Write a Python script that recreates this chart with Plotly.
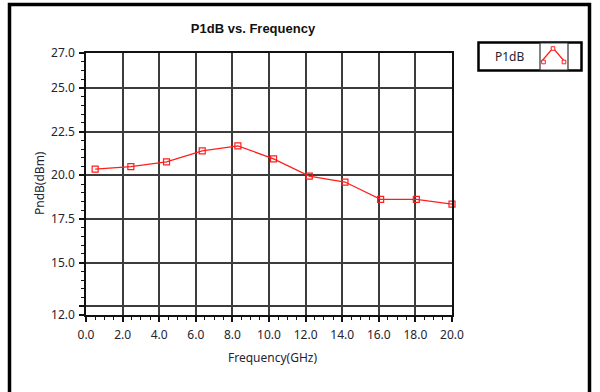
import plotly.graph_objects as go

# ---- data ----
freq_ghz = [0.5, 2.45, 4.4, 6.35, 8.3, 10.25, 12.2, 14.15, 16.1, 18.05, 20.0]
p1db_dbm = [20.35, 20.50, 20.77, 21.40, 21.68, 20.94, 19.95, 19.61, 18.62, 18.62, 18.35]
y_tickvals = [12.0, 12.5, 15.0, 17.5, 20.0, 22.5, 25.0, 27.0]
y_ticktext = ["12.0", "", "15.0", "17.5", "20.0", "22.5", "25.0", "27.0"]
x_tickvals = [0, 2, 4, 6, 8, 10, 12, 14, 16, 18, 20]
x_ticktext = ["0.0", "2.0", "4.0", "6.0", "8.0", "10.0", "12.0", "14.0", "16.0", "18.0", "20.0"]

W, H = 600, 392
L, R, T, B = 86, 452, 53, 315  # plot area in pixels


def px(p):
    return (p - L) / (R - L)


def py(p):
    return (B - p) / (B - T)


FONT = "Noto Sans"
TXT = "#1e2433"
RED = "#ff1e1e"
GRID = "#3c3c3c"

fig = go.Figure()
fig.add_trace(go.Scatter(
    x=freq_ghz, y=p1db_dbm, mode="lines+markers",
    line=dict(color=RED, width=1.2),
    marker=dict(symbol="square-open", size=6, color=RED, line=dict(width=1.2, color=RED)),
    showlegend=False, cliponaxis=False,
))

axis_common = dict(
    showline=True, linecolor="#111", linewidth=1.5, mirror=True,
    showgrid=True, gridcolor=GRID, gridwidth=1.5, zeroline=False,
    ticks="outside", ticklen=5, tickwidth=1.5, tickcolor="#111",
    tickfont=dict(family=FONT, size=12, color=TXT),
)

fig.update_xaxes(
    range=[0, 20], tickvals=x_tickvals, ticktext=x_ticktext,
    minor=dict(dtick=0.5, tick0=0, ticks="outside", ticklen=3, tickwidth=1.3, tickcolor="#111", showgrid=False),
    ticklabelstandoff=3,
    **axis_common,
)
fig.update_yaxes(
    range=[12, 27], tickvals=y_tickvals, ticktext=y_ticktext,
    minor=dict(dtick=0.5, tick0=12, ticks="outside", ticklen=3, tickwidth=1.3, tickcolor="#111", showgrid=False),
    ticklabelstandoff=2,
    **axis_common,
)

shapes = [
    # outer frame
    dict(type="rect", xref="paper", yref="paper",
         x0=px(9.5), x1=px(589.5), y0=py(400), y1=py(4.5),
         line=dict(color="#000", width=3.5), fillcolor="rgba(0,0,0,0)", layer="above"),
    # legend box
    dict(type="rect", xref="paper", yref="paper",
         x0=px(478.5), x1=px(581.5), y0=py(70.5), y1=py(42.5),
         line=dict(color="#000", width=2.5), fillcolor="white"),
    # legend icon cell
    dict(type="rect", xref="paper", yref="paper",
         x0=px(540), x1=px(568), y0=py(70), y1=py(43),
         line=dict(color="#333", width=1.2), fillcolor="white"),
    # legend icon line
    dict(type="path", xref="paper", yref="paper",
         path=f"M {px(541)},{py(62)} L {px(553)},{py(48)} L {px(565)},{py(62)}",
         line=dict(color=RED, width=1.2)),
]
for cx, cy in [(543.5, 62), (553, 48.5), (564, 62)]:
    shapes.append(dict(type="rect", xref="paper", yref="paper",
                       x0=px(cx - 1.8), x1=px(cx + 1.8), y0=py(cy + 1.8), y1=py(cy - 1.8),
                       line=dict(color=RED, width=1), fillcolor="white"))

annotations = [
    dict(text="P1dB", xref="paper", yref="paper", x=px(510), y=py(56.5),
         showarrow=False, font=dict(family=FONT, size=12, color=TXT), xanchor="center", yanchor="middle"),
    dict(text="PndB(dBm)", xref="paper", yref="paper", x=px(39), y=py(183),
         showarrow=False, textangle=-90, font=dict(family=FONT, size=12, color=TXT),
         xanchor="center", yanchor="middle"),
    dict(text="Frequency(GHz)", xref="paper", yref="paper", x=px(272), y=py(358),
         showarrow=False, font=dict(family=FONT, size=12, color=TXT),
         xanchor="center", yanchor="middle"),
]

fig.update_layout(
    width=W, height=H,
    margin=dict(l=L, r=W - R, t=T, b=H - B),
    paper_bgcolor="white", plot_bgcolor="white",
    title=dict(text="<b>P1dB vs. Frequency</b>", x=px(253), xref="paper", xanchor="center",
               y=1 - 28 / H, yanchor="middle", font=dict(family="Liberation Sans", size=13, color="#111")),
    shapes=shapes, annotations=annotations,
)

fig.write_html("out.html")
